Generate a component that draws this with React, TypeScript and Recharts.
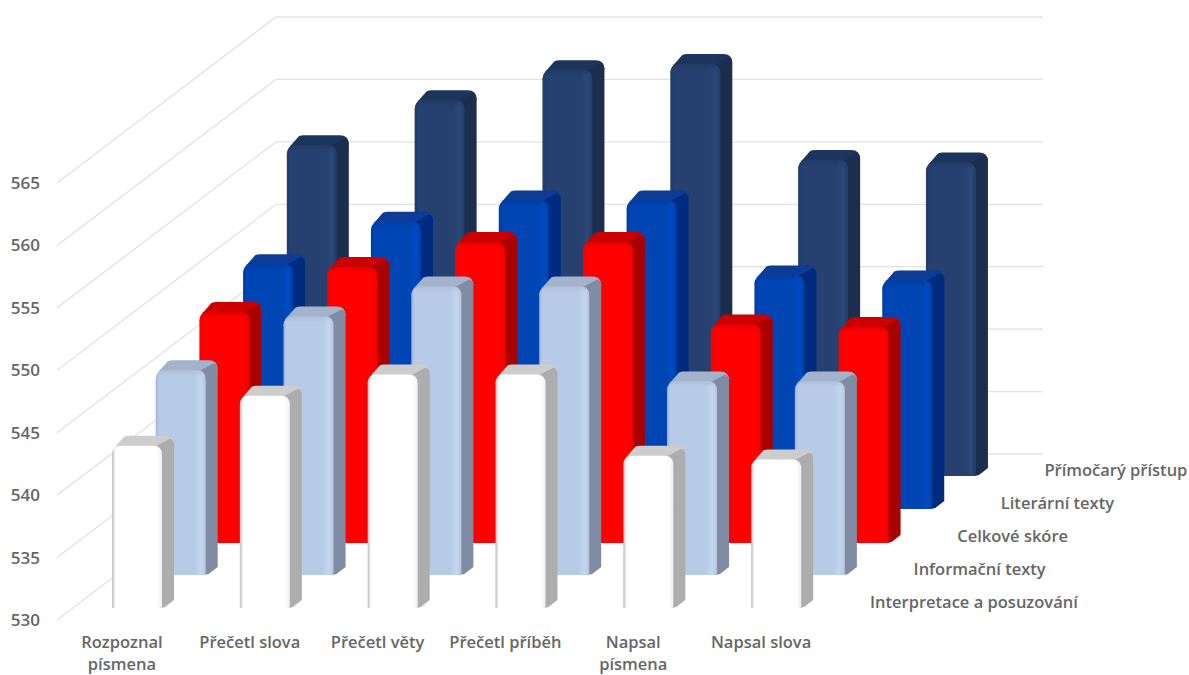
import React from "react";
import { Bar, CartesianGrid, ComposedChart, XAxis, YAxis } from "recharts";

const categories = [
  ["Rozpoznal", "písmena"],
  ["Přečetl slova"],
  ["Přečetl věty"],
  ["Přečetl příběh"],
  ["Napsal", "písmena"],
  ["Napsal slova"],
];

// front to back
const seriesNames = [
  "Interpretace a posuzování",
  "Informační texty",
  "Celkové skóre",
  "Literární texty",
  "Přímočarý přístup",
];
const interpretace = [543, 547, 548.7, 548.7, 542.2, 541.9];
const informacni = [546.4, 550.7, 553.1, 553.1, 545.5, 545.5];
const celkove = [548.5, 552.1, 554.1, 554.1, 547.5, 547.3];
const literarni = [549.6, 553, 554.7, 554.7, 548.7, 548.3];
const primocary = [556.5, 560.1, 562.5, 563, 555.3, 555.1];
const yTicks = [530, 535, 540, 545, 550, 555, 560, 565];

const seriesValues = [interpretace, informacni, celkove, literarni, primocary];
const tableData = categories.map((c, i) => {
  const row: Record<string, any> = { name: c.join(" ") };
  seriesNames.forEach((s, k) => {
    row[s] = seriesValues[k][i];
  });
  return row;
});

// fake 3d: each series row sits deeper in the box
const depthX = [16, 59.7, 103.4, 147.1, 190.8];
const depthY = [12, 45, 77, 111, 144];
const wallX = 219;
const wallY = 166;
const sideW = 12;
const capH = 10;

const frontColors = [
  ["#bdbdbd", "#ffffff", "#ffffff", "#f0f0f0"],
  ["#a3b5d0", "#b8cbe6", "#c4d7ef", "#b4c7e2"],
  ["#f00000", "#ff0000", "#ff0000", "#f20000"],
  ["#003aa3", "#0044b4", "#004ac4", "#003fa8"],
  ["#213b68", "#254170", "#2a4778", "#223b66"],
];
const capColors = ["#cdcdcd", "#a4b3cc", "#cc0000", "#0a3a96", "#1e355c"];
const sideColors = ["#adadad", "#7f8ca3", "#a80000", "#002c80", "#1b2d4e"];

const textColor = "#666666";
const fontFamily = "'Open Sans', sans-serif";

function wallLine(props: any) {
  const { x1, y1, x2 } = props;
  const yb = y1 - wallY;
  return (
    <path
      key={y1}
      d={`M${x1},${y1}L${x1 + wallX},${yb}L${x2 + wallX},${yb}`}
      fill="none"
      stroke="#e2e2e2"
      strokeWidth={1.3}
    />
  );
}

function makeBar(k: number) {
  return (props: any) => {
    const x = props.x + depthX[k];
    const w = props.width;
    const top = props.y - depthY[k];
    const b = top + props.height;
    const r = 9;
    const back =
      `M${x},${top + r}` +
      `Q${x + 1},${top + 3} ${x + 5},${top - 1}` +
      `L${x + sideW},${top - capH + 1}` +
      `Q${x + sideW + 2},${top - capH} ${x + sideW + 5},${top - capH}` +
      `L${x + w + sideW - r},${top - capH}` +
      `Q${x + w + sideW},${top - capH} ${x + w + sideW},${top - capH + r}` +
      `L${x + w},${top + r}Z`;
    const side =
      `M${x + w - r},${top + 2}` +
      `L${x + w + sideW - 4},${top - capH + 3}` +
      `Q${x + w + sideW},${top - capH + 4} ${x + w + sideW},${top - capH + r}` +
      `L${x + w + sideW},${b - capH + 2}` +
      `L${x + w + 3},${b - 1}` +
      `Q${x + w},${b} ${x + w - 4},${b}Z`;
    const front =
      `M${x},${b}L${x},${top + r}` +
      `Q${x},${top} ${x + r},${top}` +
      `L${x + w - r},${top}` +
      `Q${x + w},${top} ${x + w},${top + r}` +
      `L${x + w},${b - 1}Q${x + w},${b} ${x + w - 3},${b}Z`;
    return (
      <g filter="url(#soft)">
        <path d={back} fill={capColors[k]} />
        <path d={side} fill={sideColors[k]} />
        <path d={front} fill={`url(#face${k})`} />
        {k > 0 && (
          <rect x={x + 3} y={top} width={w - 6} height={6} fill={`url(#bevel${k})`} />
        )}
      </g>
    );
  };
}

function YTick(props: any) {
  const { y, payload } = props;
  return (
    <text
      x={40}
      y={y + 6}
      textAnchor="end"
      fontSize={17}
      fontWeight={600}
      fontFamily={fontFamily}
      fill={textColor}
    >
      {payload.value}
    </text>
  );
}

function XTick(props: any) {
  const { x, index } = props;
  return (
    <text
      textAnchor="middle"
      fontSize={16.5}
      fontWeight={600}
      fontFamily={fontFamily}
      fill={textColor}
    >
      {categories[index].map((line, n) => (
        <tspan key={n} x={x + 1} y={648 + n * 22}>
          {line}
        </tspan>
      ))}
    </text>
  );
}

export default function App() {
  const order = [4, 3, 2, 1, 0];
  return (
    <div style={{ position: "absolute", left: 0, top: 0, width: 1189, height: 675 }}>
      <ComposedChart
        width={1189}
        height={675}
        data={tableData}
        barSize={50}
        barGap={-50}
        margin={{ top: 183, right: 365, bottom: 0, left: 0 }}
      >
        <defs>
          <filter id="soft" x="-10%" y="-10%" width="120%" height="120%">
            <feGaussianBlur stdDeviation="0.6" />
          </filter>
          {frontColors.map((c, k) => (
            <linearGradient key={k} id={`face${k}`} x1="0" y1="0" x2="1" y2="0">
              <stop offset="0" stopColor={c[0]} />
              <stop offset="0.07" stopColor={c[1]} />
              <stop offset="0.78" stopColor={c[1]} />
              <stop offset="0.9" stopColor={c[2]} />
              <stop offset="1" stopColor={c[3]} />
            </linearGradient>
          ))}
          {capColors.map((c, k) => (
            <linearGradient key={k} id={`bevel${k}`} x1="0" y1="0" x2="0" y2="1">
              <stop offset="0" stopColor={c} stopOpacity={0.5} />
              <stop offset="1" stopColor={c} stopOpacity={0} />
            </linearGradient>
          ))}
        </defs>
        <CartesianGrid vertical={false} horizontal={wallLine} />
        <XAxis
          dataKey="name"
          axisLine={false}
          tickLine={false}
          height={55}
          interval={0}
          tick={XTick}
        />
        <YAxis
          domain={[530, 565]}
          ticks={yTicks}
          axisLine={false}
          tickLine={false}
          width={57}
          tick={YTick}
        />
        {order.map((k) => (
          <Bar
            key={k}
            dataKey={seriesNames[k]}
            shape={makeBar(k)}
            isAnimationActive={false}
          />
        ))}
        <g>
          {seriesNames.map((s, k) => (
            <text
              key={s}
              x={870 + k * 43.6}
              y={608 - k * 33}
              fontSize={16.5}
              fontWeight={600}
              fontFamily={fontFamily}
              fill={textColor}
            >
              {s}
            </text>
          ))}
        </g>
      </ComposedChart>
    </div>
  );
}
